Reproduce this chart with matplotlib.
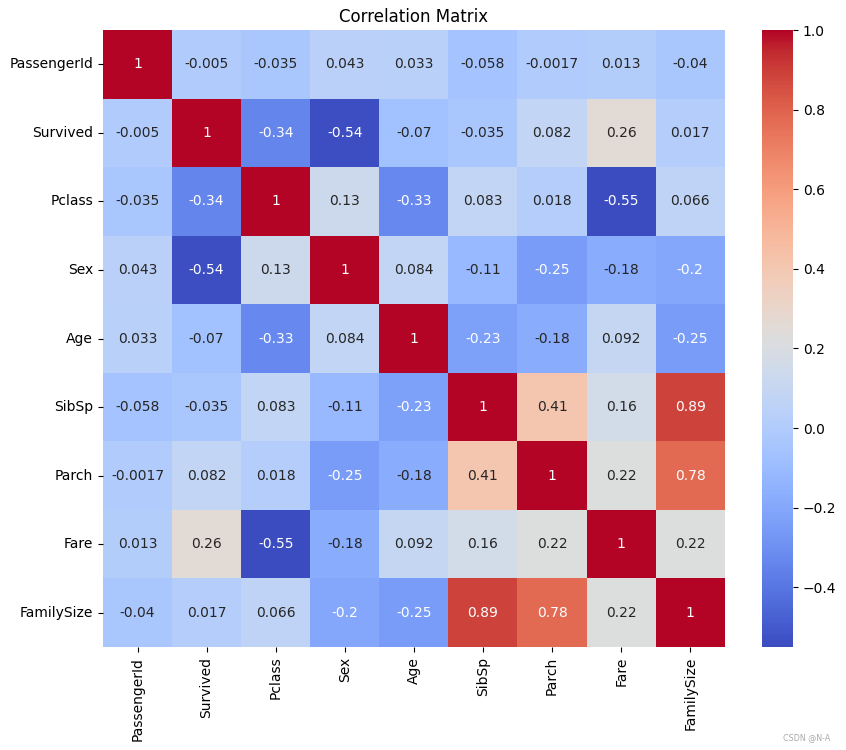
import matplotlib
matplotlib.use('Agg')
import matplotlib.pyplot as plt
import numpy as np
import pandas as pd
import seaborn as sns

cols = ['PassengerId', 'Survived', 'Pclass', 'Sex', 'Age',
        'SibSp', 'Parch', 'Fare', 'FamilySize']

# upper triangle of the correlation matrix, row by row
row_passengerid = [1, -0.005, -0.035, 0.043, 0.033, -0.058, -0.0017, 0.013, -0.04]
row_survived = [1, -0.34, -0.54, -0.07, -0.035, 0.082, 0.26, 0.017]
row_pclass = [1, 0.13, -0.33, 0.083, 0.018, -0.55, 0.066]
row_sex = [1, 0.084, -0.11, -0.25, -0.18, -0.2]
row_age = [1, -0.23, -0.18, 0.092, -0.25]
row_sibsp = [1, 0.41, 0.16, 0.89]
row_parch = [1, 0.22, 0.78]
row_fare = [1, 0.22]
row_familysize = [1]

rows = [row_passengerid, row_survived, row_pclass, row_sex, row_age,
        row_sibsp, row_parch, row_fare, row_familysize]

n = len(cols)
corr = np.zeros((n, n))
for i, r in enumerate(rows):
    for k, v in enumerate(r):
        corr[i, i + k] = v
        corr[i + k, i] = v
corr = pd.DataFrame(corr, index=cols, columns=cols)

fig = plt.figure(figsize=(8.46, 7.5), dpi=100)
ax = fig.add_axes([0.1217, 0.1373, 0.735, 0.8227])
cax = fig.add_axes([0.9007, 0.1373, 0.0366, 0.8227])

sns.heatmap(corr, annot=True, cmap='coolwarm', ax=ax, cbar_ax=cax)
ax.set_title('Correlation Matrix')

fig.text(0.982, 0.011, 'CSDN @N-A', fontsize=5.8, color='#aaaaaa', ha='right', va='bottom')

plt.savefig('out.png', dpi=100)
